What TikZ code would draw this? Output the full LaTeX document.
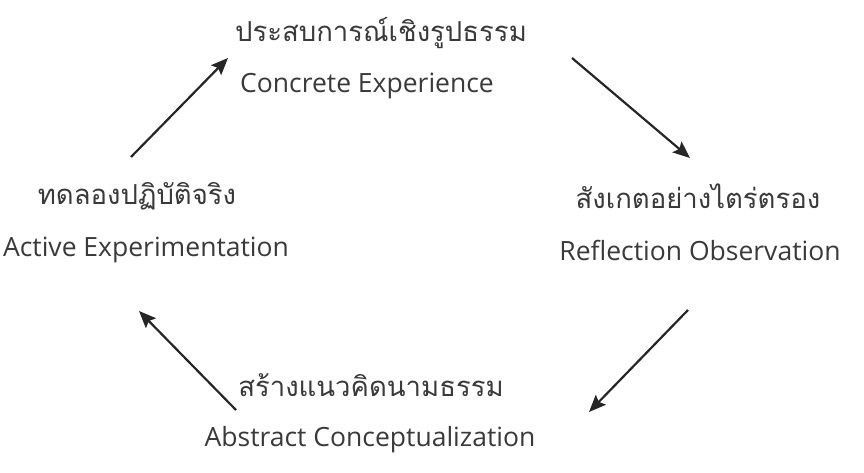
\documentclass[tikz,border=0pt]{standalone}
\usepackage{fontspec}
\setmainfont{Open Sans}
\newfontfamily\thaifont[Script=Thai]{Loma}
\usetikzlibrary{arrows.meta}
\definecolor{txt}{HTML}{3A3A3A}
\begin{document}
\begin{tikzpicture}[x=1pt,y=-1pt,
  th/.style={font=\thaifont\fontsize{27.5}{32}\selectfont, text=txt, inner sep=0pt},
  en/.style={font=\fontsize{26.5}{31}\selectfont, text=txt, inner sep=0pt},
  arr/.style={line width=2.2pt, color=black!85, -{Stealth[length=17pt,width=14pt,inset=3pt]}}]
\useasboundingbox (0,0) rectangle (864,473);
\node[th] (t1) at (381,33) {ประสบการณ์เชิงรูปธรรม};
\node[en] (e1) at (367,86) {Concrete Experience};
\node[th] (t2) at (698,196) {สังเกตอย่างไตร่ตรอง};
\node[en] (e2) at (700,250) {Reflection Observation};
\node[th] (t3) at (371,385) {สร้างแนวคิดนามธรรม};
\node[en] (e3) at (370,440) {Abstract Conceptualization};
\node[th] (t4) at (137,196) {ทดลองปฏิบัติจริง};
\node[en] (e4) at (146,250) {Active Experimentation};
\coordinate (a1s) at (131,157); \coordinate (a1e) at (228,58);
\coordinate (a2s) at (572,58);  \coordinate (a2e) at (690,158);
\coordinate (a3s) at (688,310); \coordinate (a3e) at (589,412);
\coordinate (a4s) at (236,410); \coordinate (a4e) at (139,311);
\draw[arr] (a1s) -- (a1e);
\draw[arr] (a2s) -- (a2e);
\draw[arr] (a3s) -- (a3e);
\draw[arr] (a4s) -- (a4e);
\end{tikzpicture}
\end{document}
